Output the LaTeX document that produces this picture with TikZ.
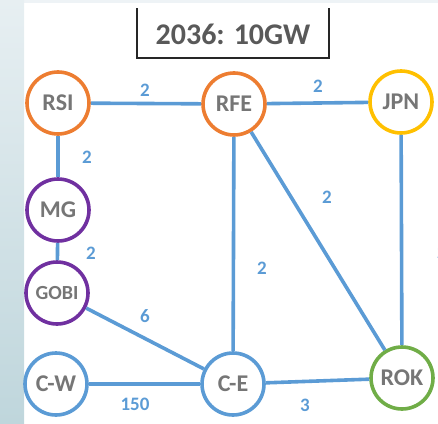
\documentclass[tikz,border=0pt]{standalone}
\usepackage{fontspec}
\setmainfont{Carlito}
\definecolor{lnblue}{HTML}{5B9BD5}
\definecolor{corange}{HTML}{ED7D31}
\definecolor{cyellow}{HTML}{FFC000}
\definecolor{cpurple}{HTML}{7030A0}
\definecolor{cgreen}{HTML}{70AD47}
\definecolor{txtgray}{HTML}{767676}
\definecolor{titlegray}{HTML}{595959}
\definecolor{stripTop}{HTML}{E7EFF2}
\definecolor{stripBot}{HTML}{BFD6DC}
\definecolor{topstrip}{HTML}{EEF3F6}
\tikzset{
  hub/.style={circle, draw=#1, line width=3.6pt, fill=white, minimum size=62pt, inner sep=0pt,
    font=\fontsize{24}{24}\selectfont\bfseries, text=txtgray},
  link/.style={draw=lnblue, line width=3.6pt},
  lbl/.style={text=lnblue, font=\fontsize{19}{19}\selectfont\bfseries, inner sep=0pt}
}
\begin{document}
\begin{tikzpicture}[x=1pt,y=-1pt]
\useasboundingbox (0,0) rectangle (438,423);
\fill[topstrip] (0,0) rectangle (438,3);
\shade[top color=stripTop, bottom color=stripBot] (0,0) rectangle (24,423);
% title
\draw[line width=1.4pt, black!85] (137,8) -- (137,58) -- (329,58) -- (329,8);
\node[font=\fontsize{30}{30}\selectfont\bfseries, text=titlegray] (title) at (233,34) {2036: 10GW};
% nodes
\node[hub=corange] (rsi) at (58,103) {RSI};
\node[hub=corange] (rfe) at (234,104) {RFE};
\node[hub=cyellow] (jpn) at (401,102) {JPN};
\node[hub=cpurple] (mg) at (58,210) {MG};
\node[hub=cpurple, font=\fontsize{20}{20}\selectfont\bfseries] (gobi) at (57,293) {GOBI};
\node[hub=lnblue] (cw) at (56,384) {C-W};
\node[hub=lnblue] (ce) at (233,384) {C-E};
\node[hub=cgreen] (rok) at (402,378) {ROK};
% links
\begin{scope}[on background layer/.style={}]
\end{scope}
\path[link] (rsi) -- (rfe);
\path[link] (rfe) -- (jpn);
\path[link] (rsi) -- (mg);
\path[link] (mg) -- (gobi);
\path[link] (rfe) -- (ce);
\path[link] (rfe) -- (rok);
\path[link] (jpn) -- (rok);
\path[link] (gobi) -- (ce);
\path[link] (cw) -- (ce);
\path[link] (ce) -- (rok);
% labels
\node[lbl] (l1) at (145,90) {2};
\node[lbl] (l2) at (318,86) {2};
\node[lbl] (l3) at (87,157) {2};
\node[lbl] (l4) at (91,253) {2};
\node[lbl] (l5) at (327,197) {2};
\node[lbl] (l6) at (262,268) {2};
\node[lbl] (l7) at (442,252) {2};
\node[lbl] (l8) at (145,316) {6};
\node[lbl] (l9) at (135,404) {150};
\node[lbl] (l10) at (305,405) {3};
\end{tikzpicture}
\end{document}
